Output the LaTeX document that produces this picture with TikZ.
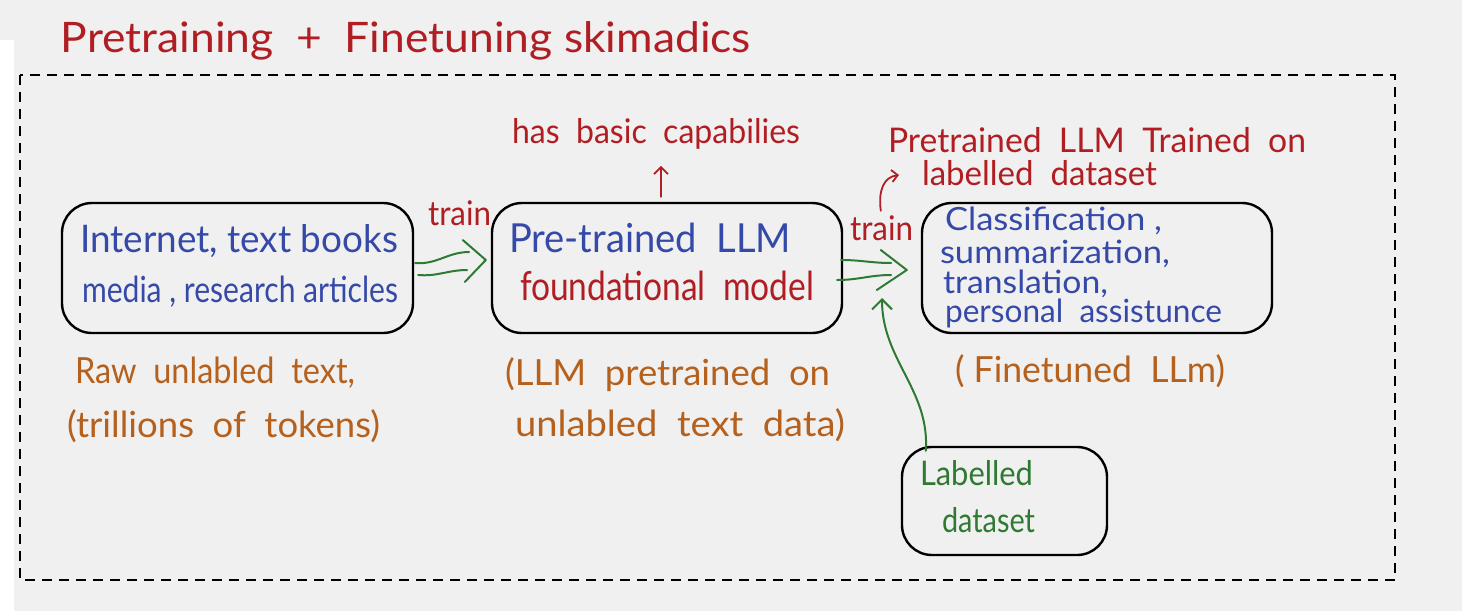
\documentclass[tikz,border=0pt]{standalone}
\usepackage{fontspec}
\setmainfont{Lato}
\usetikzlibrary{fit,arrows.meta}
\definecolor{hred}{HTML}{B01E23}
\definecolor{hblue}{HTML}{3549A8}
\definecolor{hbrown}{HTML}{B5601C}
\definecolor{hgreen}{HTML}{2F7A33}
\definecolor{bgc}{HTML}{F0F0F0}
\newcommand{\fw}[2]{\resizebox{#1pt}{\height}{#2}}
\newcommand{\fs}[1]{\fontsize{#1pt}{#1pt}\selectfont}
\begin{document}
\begin{tikzpicture}[x=0.5pt,y=-0.5pt,
  box/.style={draw=black,line width=1.2pt,rounded corners=15pt,inner sep=0pt},
  lbl/.style={anchor=base west,inner sep=0pt,outer sep=0pt},
  gline/.style={draw=hgreen,line width=1pt,line cap=round,line join=round},
  rline/.style={draw=hred,line width=0.9pt,line cap=round,line join=round}]
\useasboundingbox (0,0) rectangle (1462,611);
\fill[bgc] (0,0) rectangle (1462,611);
\fill[white] (0,40) rectangle (14,611);
% title
\node[lbl,text=hred] (title) at (61,52) {\fs{21}\fw{345}{Pretraining\ \ + \ Finetuning skimadics}};
% dashed frame
\draw[line width=1.3pt,dash pattern=on 5pt off 3.5pt] (20,75) rectangle (1395,580);
% boxes
\node[box,fit={(62,203)(413,333)}] (b1) {};
\node[box,fit={(492,203)(842,333)}] (b2) {};
\node[box,fit={(922,203)(1272,333)}] (b3) {};
\node[box,fit={(902,447)(1107,555)}] (b4) {};
% box texts
\node[lbl,text=hblue] (b1a) at (80,252) {\fs{19}\fw{159}{Internet, text books}};
\node[lbl,text=hblue] (b1b) at (82,302) {\fs{18}\fw{158}{media , research articles}};
\node[lbl,text=hblue] (b2a) at (509,252) {\fs{20}\fw{141}{Pre-trained\ \ LLM}};
\node[lbl,text=hred] (b2b) at (520,300) {\fs{20}\fw{147}{foundational\ \ model}};
\node[lbl,text=hblue] (b3a) at (945,230) {\fs{16}\fw{108.5}{Classification ,}};
\node[lbl,text=hblue] (b3b) at (940,263) {\fs{16}\fw{115}{summarization,}};
\node[lbl,text=hblue] (b3c) at (943,293) {\fs{16}\fw{82.5}{translation,}};
\node[lbl,text=hblue] (b3d) at (945,322) {\fs{16}\fw{138.5}{personal\ \ assistunce}};
\node[lbl,text=hgreen] (b4a) at (920,485) {\fs{17}\fw{56.5}{Labelled}};
\node[lbl,text=hgreen] (b4b) at (942,532) {\fs{17}\fw{46.5}{dataset}};
% annotations
\node[lbl,text=hred] (caps) at (512,143) {\fs{17}\fw{144}{has\ \ basic\ \ capabilies}};
\node[lbl,text=hred] (ft1) at (888,152) {\fs{17}\fw{209}{Pretrained\ \ LLM\ \ Trained\ \ on}};
\node[lbl,text=hred] (ft2) at (922,185) {\fs{17}\fw{117.5}{labelled\ \ dataset}};
\node[lbl,text=hred] (tr1) at (428,225) {\fs{17}\fw{31.5}{train}};
\node[lbl,text=hred] (tr2) at (850,240) {\fs{17}\fw{31.5}{train}};
\node[lbl,text=hbrown] (raw1) at (75,383) {\fs{18}\fw{140}{Raw\ \ unlabled\ \ text,}};
\node[lbl,text=hbrown] (raw2) at (67,437) {\fs{18}\fw{156.5}{(trillions\ \ of\ \ tokens)}};
\node[lbl,text=hbrown] (pt1) at (505,385) {\fs{18}\fw{162.5}{(LLM\ \ pretrained\ \ on}};
\node[lbl,text=hbrown] (pt2) at (515,436) {\fs{18}\fw{165}{unlabled\ \ text\ \ data)}};
\node[lbl,text=hbrown] (fin) at (955,382) {\fs{18}\fw{135}{(\ Finetuned\ \ LLm)}};
% arrow 1 (b1 -> b2)
\draw[gline] (b1.east) ++(1,-5) to[out=-5,in=180] ++(54,-11);
\draw[gline] (b1.east) ++(4,7) to[out=-5,in=180] ++(49,-5);
\draw[gline] (b2.west) ++(-28,-28) -- ++(23,20) -- ++(-21,22);
% arrow 2 (b2 -> b3)
\draw[gline] (b2.east) ++(-2,-8) to[out=0,in=180] ++(50,3);
\draw[gline] (b2.east) ++(-6,12) to[out=0,in=180] ++(54,-5);
\draw[gline] (b3.west) ++(-40,-18) -- ++(26,20) -- ++(-30,20);
% labelled dataset -> arrow
\draw[gline,-{Straight Barb[length=5pt,width=10pt]}] (b4.north west) ++(25,5) .. controls (930,390) and (882,360) .. (882,298);
% red arrows
\draw[rline,-{Straight Barb[length=3.5pt,width=7pt]}] (b2.north) ++(-6,-5) -- ++(0,-31);
\draw[rline,-{Straight Barb[length=3pt,width=6pt]}] (b3.north west) ++(-40,9) .. controls (878,190) and (884,177) .. (899,175);
\end{tikzpicture}
\end{document}
